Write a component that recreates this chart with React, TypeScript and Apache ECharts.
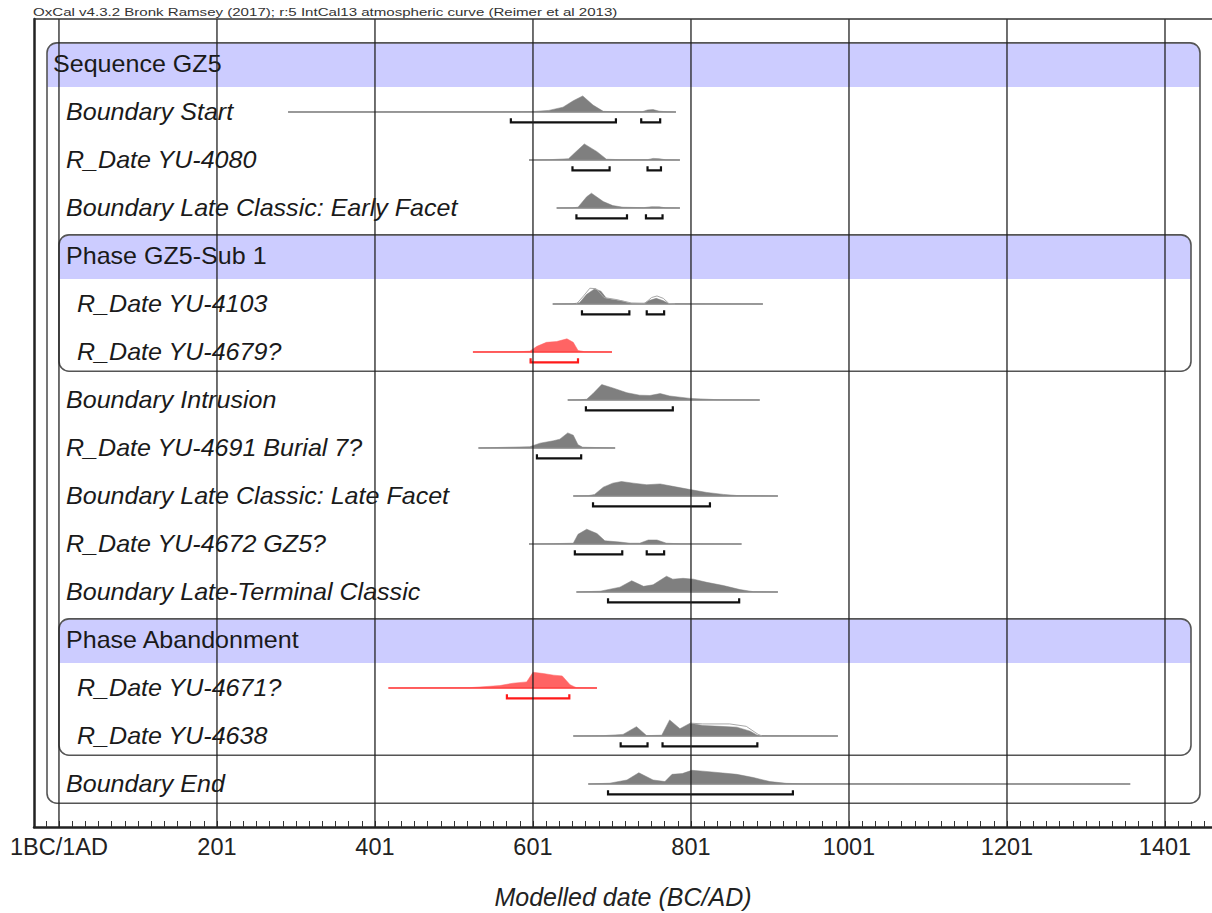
import React, { useEffect, useRef } from "react";
import * as echarts from "echarts";

const FONT = "'Liberation Sans', Arial, Helvetica, sans-serif";

// axis ranges
const X_MIN = -31.6;
const X_MAX = 1459.5;
const Y_MIN = -0.9375;
const Y_MAX = 15.896;

// ticks
const majorYears = [0, 200, 400, 600, 800, 1000, 1200, 1400];
const majorLabels = ["1BC/1AD", "201", "401", "601", "801", "1001", "1201", "1401"];
const minorPerMajor = 12;

// rows
const rowLabels = [
  "Sequence GZ5",
  "Boundary Start",
  "R_Date YU-4080",
  "Boundary Late Classic: Early Facet",
  "Phase GZ5-Sub 1",
  "R_Date YU-4103",
  "R_Date YU-4679?",
  "Boundary Intrusion",
  "R_Date YU-4691 Burial 7?",
  "Boundary Late Classic: Late Facet",
  "R_Date YU-4672 GZ5?",
  "Boundary Late-Terminal Classic",
  "Phase Abandonment",
  "R_Date YU-4671?",
  "R_Date YU-4638",
  "Boundary End",
];
const rowKinds = ["seq", "item", "item", "item", "phase", "sub", "sub", "item", "item", "item", "item", "item", "phase", "sub", "sub", "item"];

// distributions: [year, relative probability]
const distBoundaryStart = [[290, 0], [560, 0.01], [600, 0.03], [620, 0.1], [638, 0.3], [651, 0.7], [663, 1.0], [676, 0.43], [689, 0.04], [705, 0.01], [738, 0.01], [745, 0.13], [752, 0.15], [760, 0.05], [770, 0.01], [781, 0]];
const rangeBoundaryStart = [[572, 705], [737, 761]];

const dist4080 = [[595, 0], [621, 0.02], [645, 0.08], [653, 0.45], [665, 1.0], [681, 0.52], [693, 0.05], [710, 0.02], [745, 0.02], [752, 0.1], [760, 0.08], [768, 0.01], [786, 0]];
const range4080 = [[650, 697], [745, 762]];

const distEarlyFacet = [[630, 0], [650, 0.01], [657, 0.05], [668, 0.7], [674, 0.92], [689, 0.4], [701, 0.15], [714, 0.05], [740, 0.02], [750, 0.08], [760, 0.07], [768, 0.01], [786, 0]];
const rangeEarlyFacet = [[655, 719], [743, 764]];

const dist4103 = [[625, 0], [650, 0.01], [659, 0.08], [668, 0.6], [678, 0.94], [686, 0.8], [693, 0.35], [701, 0.28], [712, 0.2], [723, 0.05], [740, 0.02], [746, 0.2], [756, 0.35], [765, 0.2], [772, 0.02], [800, 0.01], [891, 0]];
const prior4103 = [[655, 0], [664, 0.5], [672, 0.98], [680, 0.95], [690, 0.4], [705, 0.28], [725, 0.06], [742, 0.05], [750, 0.4], [757, 0.5], [765, 0.35], [772, 0.03], [780, 0]];
const range4103 = [[662, 722], [744, 766]];

const dist4679 = [[524, 0], [580, 0.01], [596, 0.05], [605, 0.35], [617, 0.6], [630, 0.65], [643, 0.82], [651, 0.6], [657, 0.1], [665, 0.02], [700, 0]];
const range4679 = [[597, 657]];

const distIntrusion = [[644, 0], [660, 0.01], [668, 0.05], [676, 0.4], [687, 0.96], [701, 0.75], [719, 0.45], [735, 0.3], [748, 0.28], [761, 0.4], [773, 0.25], [799, 0.1], [833, 0.02], [887, 0]];
const rangeIntrusion = [[667, 777]];

const dist4691 = [[531, 0], [546, 0.02], [596, 0.08], [609, 0.3], [626, 0.45], [634, 0.55], [644, 0.94], [651, 0.8], [657, 0.2], [663, 0.05], [704, 0]];
const range4691 = [[605, 661]];

const distLateFacet = [[651, 0], [670, 0.02], [678, 0.1], [689, 0.55], [701, 0.8], [712, 0.9], [727, 0.8], [744, 0.7], [761, 0.75], [777, 0.6], [799, 0.4], [820, 0.22], [841, 0.1], [858, 0.03], [910, 0]];
const rangeLateFacet = [[676, 824]];

const dist4672 = [[595, 0], [626, 0.02], [651, 0.05], [657, 0.6], [668, 0.92], [681, 0.65], [691, 0.2], [710, 0.12], [723, 0.05], [735, 0.05], [746, 0.25], [757, 0.25], [769, 0.05], [786, 0.01], [864, 0]];
const range4672 = [[653, 713], [744, 766]];

const distLateTerminal = [[655, 0], [685, 0.05], [710, 0.3], [725, 0.7], [740, 0.35], [752, 0.45], [769, 0.98], [777, 0.8], [790, 0.85], [803, 0.8], [820, 0.6], [841, 0.4], [862, 0.15], [879, 0.02], [910, 0]];
const rangeLateTerminal = [[695, 861]];

const dist4671 = [[417, 0], [520, 0.02], [558, 0.15], [575, 0.3], [592, 0.38], [600, 0.98], [613, 0.9], [626, 0.8], [637, 0.75], [647, 0.2], [655, 0.02], [681, 0]];
const range4671 = [[567, 646]];

const dist4638 = [[651, 0], [689, 0.02], [714, 0.1], [731, 0.58], [744, 0.02], [763, 0.05], [773, 1.0], [786, 0.45], [799, 0.8], [815, 0.65], [837, 0.6], [858, 0.55], [875, 0.3], [885, 0.02], [986, 0]];
const prior4638 = [[799, 0.8], [815, 0.75], [849, 0.75], [870, 0.6], [885, 0.1], [890, 0]];
const range4638 = [[711, 745], [764, 884]];

const distBoundaryEnd = [[670, 0], [697, 0.05], [719, 0.25], [734, 0.7], [752, 0.25], [767, 0.15], [776, 0.6], [789, 0.65], [801, 0.85], [815, 0.8], [837, 0.7], [858, 0.6], [879, 0.4], [900, 0.15], [921, 0.04], [942, 0.01], [1356, 0]];
const rangeBoundaryEnd = [[695, 929]];

const distTable = [
  { row: 1, points: distBoundaryStart, ranges: rangeBoundaryStart },
  { row: 2, points: dist4080, ranges: range4080 },
  { row: 3, points: distEarlyFacet, ranges: rangeEarlyFacet },
  { row: 5, points: dist4103, ranges: range4103, prior: prior4103 },
  { row: 6, points: dist4679, ranges: range4679, red: true },
  { row: 7, points: distIntrusion, ranges: rangeIntrusion },
  { row: 8, points: dist4691, ranges: range4691 },
  { row: 9, points: distLateFacet, ranges: rangeLateFacet },
  { row: 10, points: dist4672, ranges: range4672 },
  { row: 11, points: distLateTerminal, ranges: rangeLateTerminal },
  { row: 13, points: dist4671, ranges: range4671, red: true },
  { row: 14, points: dist4638, ranges: range4638, prior: prior4638 },
  { row: 15, points: distBoundaryEnd, ranges: rangeBoundaryEnd },
];

const PEAK = 0.335; // rows for relative probability 1
const BRACKET_OFF = 0.215; // rows below baseline

export default function App() {
  const ref = useRef<HTMLDivElement>(null);
  useEffect(() => {
    if (!ref.current) return;
    const chart = echarts.init(ref.current, null, { renderer: "svg" });

    const minorTicks: number[] = [];
    const step = 200 / minorPerMajor;
    for (let v = Math.ceil(X_MIN / step) * step; v <= X_MAX; v += step) minorTicks.push(Math.round(v * 1000) / 1000);

    const option: any = {
      animation: false,
      grid: { left: 34, right: 0, top: 19, bottom: 86, show: false, outerBoundsMode: "none", containLabel: false },
      xAxis: {
        type: "value",
        min: X_MIN,
        max: X_MAX,
        position: "bottom",
        axisLine: { show: true, onZero: false, lineStyle: { color: "#222", width: 2.5 } },
        axisTick: { show: true, inside: true, length: 6, customValues: minorTicks, lineStyle: { color: "#333", width: 1 } },
        axisLabel: {
          customValues: majorYears,
          formatter: (v: number) => {
            const i = majorYears.indexOf(Math.round(v));
            return i >= 0 ? majorLabels[i] : "";
          },
          fontSize: 23.5,
          color: "#222",
          margin: 8,
          fontFamily: FONT,
        },
        splitLine: { show: false },
        name: "Modelled date (BC/AD)",
        nameLocation: "middle",
        nameGap: 57,
        nameTextStyle: { fontSize: 25, fontStyle: "italic", color: "#222", fontFamily: FONT },
      },
      yAxis: {
        type: "value",
        inverse: true,
        min: Y_MIN,
        max: Y_MAX,
        axisLine: { show: true, onZero: false, lineStyle: { color: "#222", width: 2.5 } },
        axisTick: { show: false },
        axisLabel: { show: false },
        splitLine: { show: false },
      },
      series: [
        {
          type: "custom",
          z: 5,
          clip: false,
          silent: true,
          data: distTable.map((d) => [d.points[0][0], d.row]),
          renderItem: (params: any, api: any) => {
            const d = distTable[params.dataIndex];
            const fill = d.red ? "#ff6464" : "#7f7f7f";
            const lineCol = d.red ? "#ff4040" : "#8a8a8a";
            const bracketCol = d.red ? "#ff1a1a" : "#111";
            const pts = d.points.map(([x, h]) => api.coord([x, d.row - h * PEAK]));
            const first = api.coord([d.points[0][0], d.row]);
            const last = api.coord([d.points[d.points.length - 1][0], d.row]);
            const children: any[] = [
              { type: "polygon", shape: { points: pts }, style: { fill, stroke: fill, lineWidth: 0.5 } },
              { type: "line", shape: { x1: first[0], y1: first[1], x2: last[0], y2: last[1] }, style: { stroke: lineCol, lineWidth: 1.3 } },
            ];
            if (d.prior) {
              const pp = d.prior.map(([x, h]) => api.coord([x, d.row - h * PEAK]));
              children.push({ type: "polyline", shape: { points: pp }, style: { fill: "none", stroke: "#a8a8a8", lineWidth: 1 } });
            }
            d.ranges.forEach(([a, b]) => {
              const pa = api.coord([a, d.row + BRACKET_OFF]);
              const pb = api.coord([b, d.row + BRACKET_OFF]);
              children.push({
                type: "polyline",
                shape: { points: [[pa[0], pa[1] - 4], [pa[0], pa[1]], [pb[0], pb[1]], [pb[0], pb[1] - 4]] },
                style: { fill: "none", stroke: bracketCol, lineWidth: 2.2 },
              });
            });
            return { type: "group", children };
          },
        },
        {
          type: "custom",
          z: 8,
          clip: false,
          silent: true,
          data: majorYears.map((v) => [v]),
          renderItem: (params: any, api: any) => {
            const v = majorYears[params.dataIndex];
            const p1 = api.coord([v, Y_MIN]);
            const p2 = api.coord([v, Y_MAX]);
            return { type: "line", shape: { x1: p1[0], y1: p1[1], x2: p2[0], y2: p2[1] }, style: { stroke: "#222", lineWidth: 1.3 } };
          },
        },
      ],
    };
    chart.setOption(option);

    const yPx = (r: number) => chart.convertToPixel({ yAxisIndex: 0 } as any, r) as number;

    const graphics: any[] = [];
    graphics.push({
      type: "text",
      x: 33,
      y: 12,
      z: 10,
      scaleX: 1.37,
      style: { text: "OxCal v4.3.2 Bronk Ramsey (2017); r:5 IntCal13 atmospheric curve (Reimer et al 2013)", fontSize: 11, fontFamily: FONT, fill: "#333", verticalAlign: "middle" },
    });
    const topY = yPx(Y_MIN);
    graphics.push({
      type: "line",
      z: 9,
      shape: { x1: 34, y1: topY, x2: 1212, y2: topY },
      style: { stroke: "#333", lineWidth: 1.6 },
    });

    const box = (x1: number, x2: number, headRow: number, lastRow: number) => {
      const top = yPx(headRow - 0.44);
      const headBottom = yPx(headRow + 0.48);
      const bottom = yPx(lastRow + 0.4);
      graphics.push({
        type: "rect",
        z: 1,
        shape: { x: x1, y: top, width: x2 - x1, height: headBottom - top, r: [10, 10, 0, 0] },
        style: { fill: "#ccccff" },
      });
      graphics.push({
        type: "rect",
        z: 2,
        shape: { x: x1, y: top, width: x2 - x1, height: bottom - top, r: 10 },
        style: { fill: "none", stroke: "#555", lineWidth: 1.6 },
      });
    };
    box(47, 1200, 0, 15);
    box(59, 1191, 4, 6);
    box(59, 1191, 12, 14);

    rowLabels.forEach((lab, i) => {
      const kind = rowKinds[i];
      const x = kind === "seq" ? 53 : kind === "sub" ? 77 : 66;
      const header = kind === "seq" || kind === "phase";
      graphics.push({
        type: "text",
        x,
        y: yPx(i),
        z: 6,
        scaleX: 1.09,
        style: {
          text: lab,
          fontSize: 23,
          fontStyle: header ? "normal" : "italic",
          fontFamily: FONT,
          fill: "#1a1a1a",
          verticalAlign: "middle",
        },
      });
    });

    chart.setOption({ graphic: { elements: graphics } });

    return () => chart.dispose();
  }, []);

  return <div ref={ref} style={{ position: "absolute", left: 0, top: 0, width: 1212, height: 913 }} />;
}
